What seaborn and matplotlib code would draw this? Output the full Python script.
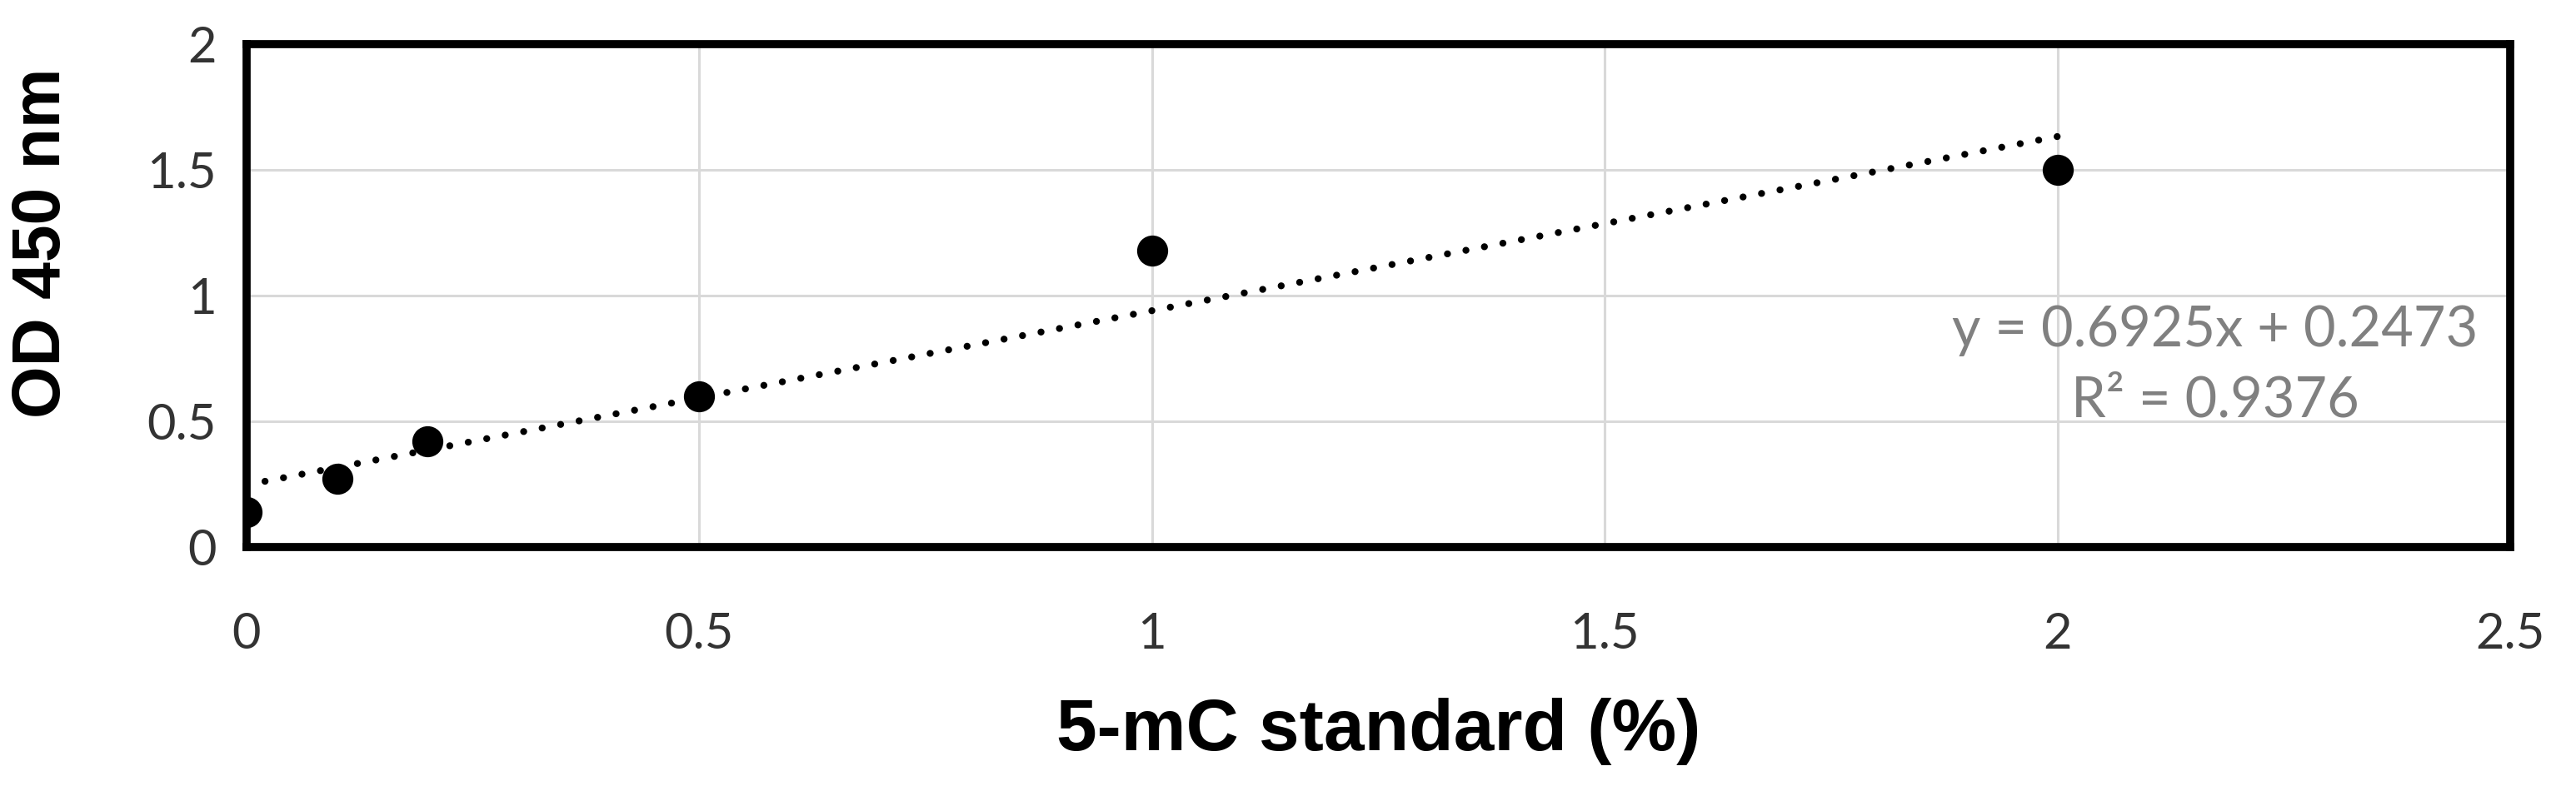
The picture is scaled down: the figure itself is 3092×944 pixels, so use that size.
import numpy as np
import pandas as pd
import seaborn as sns
import matplotlib.pyplot as plt

# standard curve readings
std_pct = [0, 0.1, 0.2, 0.5, 1, 2]
od450 = [0.14, 0.27, 0.42, 0.60, 1.18, 1.50]

# linear trendline shown on the chart
fit_slope = 0.6925
fit_intercept = 0.2473
fit_r2 = 0.9376
fit_range = [0, 2]

x_ticks = [0, 0.5, 1, 1.5, 2, 2.5]
y_ticks = [0, 0.5, 1, 1.5, 2]

df = pd.DataFrame({'std': std_pct, 'od': od450})
trend_x = np.array(fit_range)
trend = pd.DataFrame({'x': trend_x, 'y': fit_slope * trend_x + fit_intercept})

sns.set_theme(style='white')
plt.rcParams['font.family'] = ['Lato', 'DejaVu Sans']

fig, ax = plt.subplots(figsize=(30.92, 9.44), dpi=100)
fig.subplots_adjust(left=0.0957, right=0.9745, top=0.944, bottom=0.304)

sns.lineplot(data=trend, x='x', y='y', ax=ax, color='black', linewidth=6,
             linestyle=(0, (0.01, 2.7)), dash_capstyle='round', zorder=2)
sns.scatterplot(data=df, x='std', y='od', ax=ax, color='black', s=720,
                edgecolor='black', linewidth=0, zorder=3)

ax.set_xlim(0, 2.5)
ax.set_ylim(0, 2)
ax.set_xticks(x_ticks)
ax.set_yticks(y_ticks)
ax.set_xticklabels([f'{t:g}' for t in x_ticks])
ax.set_yticklabels([f'{t:g}' for t in y_ticks])
ax.tick_params(axis='x', length=0, pad=56, labelsize=43, labelcolor='#333333')
ax.tick_params(axis='y', length=0, pad=26, labelsize=43, labelcolor='#333333')

ax.grid(True, color='#d9d9d9', linewidth=2.2)
ax.set_axisbelow(True)
for sp in ax.spines.values():
    sp.set_visible(True)
    sp.set_color('black')
    sp.set_linewidth(7)

ax.set_xlabel('5-mC standard (%)', fontsize=63, fontweight='bold',
              family=['Liberation Sans', 'DejaVu Sans'], color='black')
ax.set_ylabel('OD 450 nm', fontsize=58, fontweight='bold',
              family=['Liberation Sans', 'DejaVu Sans'], color='black')
ax.xaxis.set_label_coords(0.5, -0.30)
ax.yaxis.set_label_coords(-0.076, 0.604)

ax.text(2.174, 0.72, f'y = {fit_slope}x + {fit_intercept}\nR² = {fit_r2}',
        ha='center', va='center', multialignment='center', linespacing=1.45,
        fontsize=48, color='#808080')

plt.savefig('out.png', dpi=100)
